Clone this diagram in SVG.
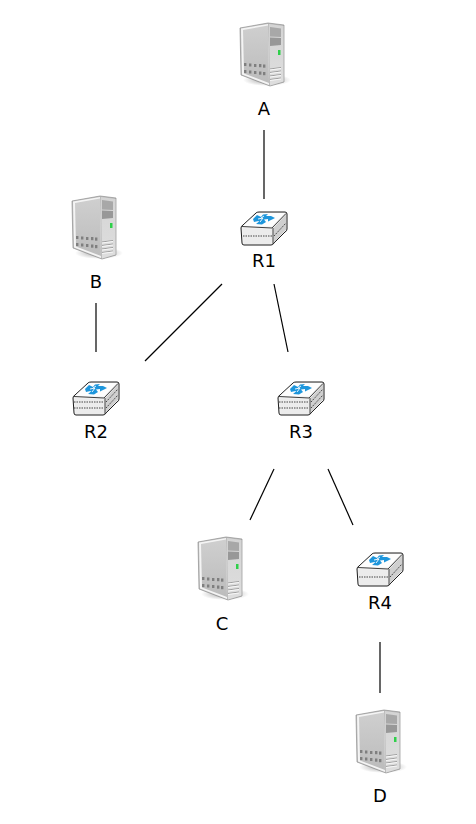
<svg xmlns="http://www.w3.org/2000/svg" width="476" height="824" viewBox="0 0 476 824">
<style>
text{font-family:"DejaVu Sans",sans-serif;font-size:18px;fill:#000;text-anchor:middle}
.l{stroke:#000;stroke-width:1.2;fill:none}
.d{stroke:#333;stroke-width:.9;stroke-dasharray:1.500 1;fill:none}
</style>
<defs>
<linearGradient id="sf" x1="0" y1="0" x2="0" y2="1"><stop offset="0" stop-color="#cfcfcf"/><stop offset="1" stop-color="#bcbcbc"/></linearGradient>
<linearGradient id="sr" x1="0" y1="0" x2="0" y2="1"><stop offset="0" stop-color="#d4d4d4"/><stop offset="1" stop-color="#dedede"/></linearGradient>
<radialGradient id="sh"><stop offset="0" stop-color="#666" stop-opacity=".65"/><stop offset="1" stop-color="#777" stop-opacity="0"/></radialGradient>
<g id="server">
<ellipse cx="267" cy="80" rx="24" ry="6" fill="url(#sh)"/>
<path d="M240 28 268 23 284 25 284 82 270 86 241 75Z" fill="#bbb" stroke="#8f8f8f" stroke-width=".7"/>
<path d="M241 28.500 268 24 269 85 242 74.500Z" fill="#f4f4f4"/>
<path d="M243 30 268 25.500 269 83 244 73.500Z" fill="url(#sf)"/>
<path d="M269 24 283.500 26 283.500 81.500 270 85.500Z" fill="url(#sr)"/>
<path d="M270 27 281 28.500 281 37 270 36.500Z" fill="#a8a8a8"/>
<path d="M270 37.500 281 38 281 45 270 46Z" fill="#989898"/>
<rect x="278" y="50" width="2.500" height="5" fill="#2fd04a"/>
<g fill="#7f7f7f">
<rect x="244" y="63" width="2.400" height="3"/><rect x="249" y="63.500" width="2.400" height="3"/><rect x="254" y="64" width="2.400" height="3"/><rect x="259" y="64" width="2.400" height="3.200"/><rect x="263" y="64.500" width="2.400" height="3.200"/>
<rect x="244" y="70" width="2.400" height="3"/><rect x="249" y="70.500" width="2.400" height="3"/><rect x="254" y="71" width="2.400" height="3"/><rect x="259" y="71.500" width="2.400" height="3.200"/><rect x="263" y="72" width="2.400" height="3.200"/>
</g>
<path d="M270 69 281 67.500M270 72.500 281 71M270 76 281 74.500M270 79.500 281 78" stroke="#8e8e8e" stroke-width=".8" fill="none"/>
<path d="M270 70 281 68.500M270 73.500 281 72M270 77 281 75.500M270 80.500 281 79" stroke="#f7f7f7" stroke-width="1.100" fill="none"/>
</g>
<g id="router">
<path d="M241 228Q241 226 243 225L256 213Q257 212 259 212L285 212Q287 212 287 214L287 229Q287 231 285 232L274 243Q273 245 271 245L244 245Q242 245 242 243Z" fill="#f1f1f1" stroke="#1d1d1d" stroke-width="1"/>
<path d="M243 226 257 213 285 213 272 226.500Z" fill="#fdfdfd"/>
<path d="M242.500 228 272 229.500 272 244 244 244Z" fill="#ececec"/>
<path d="M273.500 228 286 214.500 286 229.500 273.500 243Z" fill="#cfcfcf"/>
<path d="M242 226.500 272 228 286 213.500M273 228V244" stroke="#2a2a2a" stroke-width=".9" fill="none"/>
<path d="M253 219 257 215 261 217 263 214.500 268 214 266 216 271 216 275 218 268 221.500 268 219 264 219.500 266 222 262 224.500 256 224 259 221.500 258.500 221 254 222Z" fill="#1e96dc"/>
<path d="M258 219 263 218 260 222M264 216 261 218" stroke="#fff" stroke-width=".9" fill="none"/>
</g>
</defs>
<g id="connectors">
<path class="l" d="M264 130V199"/>
<path class="l" d="M96 303V352"/>
<path class="l" d="M222 284 145 361"/>
<path class="l" d="M274 284 288 352"/>
<path class="l" d="M274 469 250 520"/>
<path class="l" d="M328 469 353 525"/>
<path class="l" d="M380 642V693"/>
</g>
<g id="A"><use href="#server"/><text x="264" y="115">A</text></g>
<g id="B"><use href="#server" transform="translate(-168 173)"/><text x="96" y="288">B</text></g>
<g id="C"><use href="#server" transform="translate(-42 514)"/><text x="222" y="630">C</text></g>
<g id="D"><use href="#server" transform="translate(116 687)"/><text x="380" y="802">D</text></g>
<g id="R1"><use href="#router"/><path class="d" d="M243 236H272M274 236 286 223"/><text x="264" y="267">R1</text></g>
<g id="R2"><use href="#router" transform="translate(-168 170)"/><path class="d" d="M74 402H104M74 408H104M106 402 118 389M106 408 118 395"/><text x="96" y="438">R2</text></g>
<g id="R3"><use href="#router" transform="translate(37 170)"/><path class="d" d="M279 402H309M279 408H309M311 402 323 389M311 408 323 395"/><text x="301" y="438">R3</text></g>
<g id="R4"><use href="#router" transform="translate(116 341)"/><path class="d" d="M359 577H388M390 577 402 564"/><text x="380" y="609">R4</text></g>
</svg>
